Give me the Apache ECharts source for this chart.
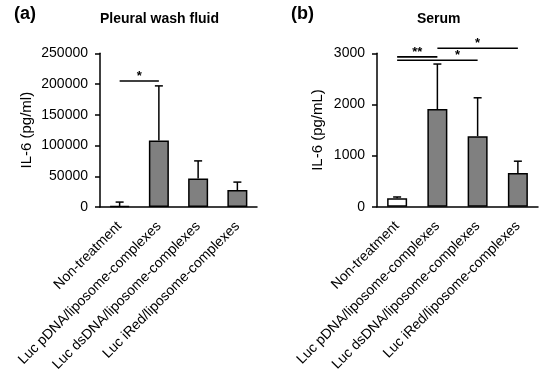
<!DOCTYPE html>
<html><head><meta charset="utf-8">
<script src="https://cdn.jsdelivr.net/npm/echarts@6/dist/echarts.min.js"></script>
<style>html,body{margin:0;padding:0;background:#fff}#c{width:550px;height:381px}</style>
</head><body><div id="c"></div>
<script>
const categories = ['Non-treatment', 'Luc pDNA/liposome-complexes', 'Luc dsDNA/liposome-complexes', 'Luc iRed/liposome-complexes'];
const pleuralMean = [1500, 108000, 46500, 27500];
const pleuralUpper = [8000, 197000, 75000, 40500];
const serumMean = [165, 1910, 1380, 660];
const serumUpper = [190, 2790, 2130, 890];
const pleuralTicks = [0, 50000, 100000, 150000, 200000, 250000];
const serumTicks = [0, 1000, 2000, 3000];
// significance brackets: [fromIdx, toIdx, value, label, starPos]
const pleuralSig = [[0, 1, 205000, '*', 0.5]];
const serumSig = [[0, 1, 2930, '**', 0.5], [0, 2, 2865, '*', 1.5], [1, 3, 3100, '*', 2]];

const FONT = 'Liberation Sans, Arial, Helvetica, sans-serif';
const chart = echarts.init(document.getElementById('c'), null, {renderer: 'canvas'});

function barData(vals) {
  return vals.map((v, i) => ({value: v, itemStyle: {color: i === 0 ? '#ffffff' : '#808080'}}));
}
function errSeries(mean, upper, gi) {
  return {
    type: 'custom', xAxisIndex: gi, yAxisIndex: gi, z: 5,
    data: mean.map((m, i) => [i, m, upper[i]]),
    renderItem: function (params, api) {
      const a = api.coord([api.value(0), api.value(1)]);
      const b = api.coord([api.value(0), api.value(2)]);
      const st = {stroke: '#000', lineWidth: 1.5};
      return {type: 'group', children: [
        {type: 'line', shape: {x1: a[0], y1: a[1], x2: b[0], y2: b[1]}, style: st},
        {type: 'line', shape: {x1: b[0] - 4, y1: b[1], x2: b[0] + 4, y2: b[1]}, style: st}
      ]};
    }
  };
}
function sigSeries(sig, gi) {
  return {
    type: 'custom', xAxisIndex: gi, yAxisIndex: gi, z: 6, clip: false,
    data: sig,
    renderItem: function (params, api) {
      const d = sig[params.dataIndex];
      const p1 = api.coord([d[0], d[2]]);
      const p2 = api.coord([d[1], d[2]]);
      const xs0 = api.coord([Math.floor(d[4]), d[2]]);
      const xs1 = api.coord([Math.ceil(d[4]), d[2]]);
      const sx = xs0[0] + (xs1[0] - xs0[0]) * (d[4] - Math.floor(d[4]));
      return {type: 'group', children: [
        {type: 'line', shape: {x1: p1[0], y1: p1[1], x2: p2[0], y2: p2[1]}, style: {stroke: '#000', lineWidth: 1.6}},
        {type: 'text', style: {x: sx, y: p1[1] + 2, text: d[3], fill: '#000', font: 'bold 13px ' + FONT, textAlign: 'center', textVerticalAlign: 'bottom'}}
      ]};
    }
  };
}
function xAx(gi) {
  return {
    type: 'category', gridIndex: gi, data: categories,
    axisLine: {lineStyle: {color: '#000', width: 1.5}},
    axisTick: {show: false},
    axisLabel: {rotate: 45, interval: 0, fontSize: 14, color: '#000', fontFamily: FONT, margin: 17}
  };
}
function yAx(gi, ticks, name, gap) {
  return {
    type: 'value', gridIndex: gi, min: ticks[0], max: ticks[ticks.length - 1], interval: ticks[1] - ticks[0],
    name: name, nameLocation: 'middle', nameGap: gap,
    nameTextStyle: {fontSize: 15, color: '#000', fontFamily: FONT},
    axisLine: {show: true, lineStyle: {color: '#000', width: 1.5}},
    axisTick: {show: true, length: 5, lineStyle: {color: '#000', width: 1.5}},
    splitLine: {show: false},
    axisLabel: {fontSize: 14, color: '#000', fontFamily: FONT, margin: 12, formatter: v => String(v)}
  };
}
const option = {
  animation: false,
  backgroundColor: '#fff',
  title: [
    {text: '(a)', left: 14, top: 5, padding: 0, textStyle: {fontSize: 18, fontWeight: 'bold', color: '#000', fontFamily: FONT}},
    {text: '(b)', left: 291, top: 5, padding: 0, textStyle: {fontSize: 18, fontWeight: 'bold', color: '#000', fontFamily: FONT}},
    {text: 'Pleural wash fluid', left: 100, top: 12, padding: 0, textStyle: {fontSize: 14, fontWeight: 'bold', color: '#000', fontFamily: FONT}},
    {text: 'Serum', left: 417, top: 12, padding: 0, textStyle: {fontSize: 14, fontWeight: 'bold', color: '#000', fontFamily: FONT}}
  ],
  grid: [
    {left: 100, top: 53.3, width: 157, height: 153.7, containLabel: false},
    {left: 377, top: 53.3, width: 161, height: 153.4, containLabel: false}
  ],
  xAxis: [xAx(0), xAx(1)],
  yAxis: [yAx(0, pleuralTicks, 'IL-6 (pg/ml)', 66), yAx(1, serumTicks, 'IL-6 (pg/mL)', 52)],
  series: [
    {type: 'bar', xAxisIndex: 0, yAxisIndex: 0, barWidth: 20, data: barData(pleuralMean),
     itemStyle: {borderColor: '#000', borderWidth: 1.5}},
    {type: 'bar', xAxisIndex: 1, yAxisIndex: 1, barWidth: 20, data: barData(serumMean),
     itemStyle: {borderColor: '#000', borderWidth: 1.5}},
    errSeries(pleuralMean, pleuralUpper, 0),
    errSeries(serumMean, serumUpper, 1),
    sigSeries(pleuralSig, 0),
    sigSeries(serumSig, 1)
  ]
};
chart.setOption(option);
</script>
</body></html>
